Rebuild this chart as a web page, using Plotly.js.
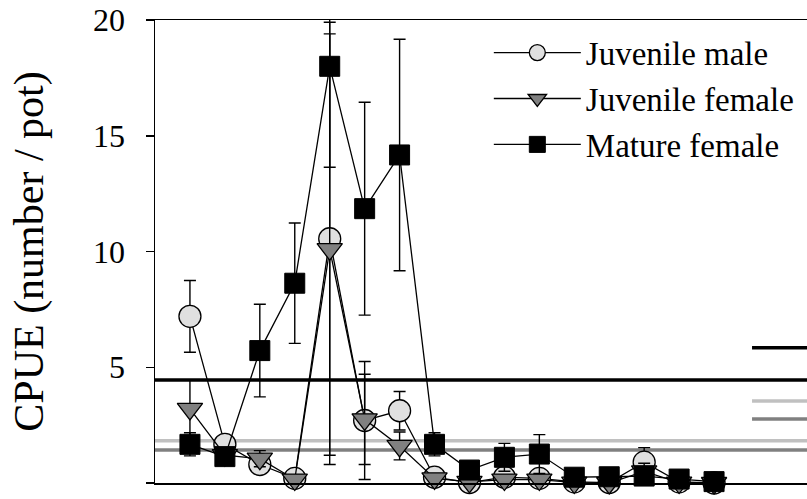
<!DOCTYPE html>
<html>
<head>
<meta charset="utf-8">
<script src="https://cdn.plot.ly/plotly-3.0.1.min.js"></script>
<style>
  html, body { margin: 0; padding: 0; background: #fff; overflow: hidden; }
  #chart { width: 807px; height: 499px; }
</style>
</head>
<body>
<div id="chart"></div>
<script>
// ---- data ----
const samples = [1, 2, 3, 4, 5, 6, 7, 8, 9, 10, 11, 12, 13, 14, 15, 16];

const juvMale    = [7.2, 1.67, 0.8, 0.2, 10.55, 2.7, 3.12, 0.25, 0.02, 0.25, 0.2, 0.05, 0.02, 0.9, 0.05, 0.0];
const juvMaleErr = [1.55, 0.15, 0.2, 0.1, 9.35, 2.55, 0.83, 0.15, 0.05, 0.3, 0.3, 0.1, 0.05, 0.63, 0.1, 0.02];

const juvFemale    = [3.2, 1.2, 1.05, 0.15, 10.1, 2.75, 1.6, 0.2, 0.05, 0.15, 0.15, 0.02, 0.0, 0.5, 0.02, 0.0];
const juvFemaleErr = [1.25, 0.2, 0.35, 0.1, 9.3, 1.95, 0.6, 0.1, 0.05, 0.2, 0.2, 0.05, 0.02, 0.35, 0.05, 0.0];

const matFemale    = [1.67, 1.14, 5.72, 8.63, 18.0, 11.85, 14.17, 1.67, 0.56, 1.11, 1.25, 0.25, 0.27, 0.3, 0.17, 0.06];
const matFemaleErr = [0.5, 0.25, 2.0, 2.6, 4.36, 4.6, 5.0, 0.5, 0.15, 0.6, 0.84, 0.1, 0.1, 0.15, 0.1, 0.05];

// horizontal reference levels (mature female, juvenile male, juvenile female)
const refLevels = [4.45, 1.83, 1.43];
const refColors = ['#000000', '#c0c0c0', '#808080'];

const yTicks = [0, 5, 10, 15, 20];
const seriesNames = ['Juvenile male', 'Juvenile female', 'Mature female'];

// ---- drawing ----
const FONT = 'serif';

function errSpec(arr) {
  return { type: 'data', array: arr, visible: true, color: '#000', thickness: 1.4, width: 6 };
}

const traces = [
  {
    x: samples, y: juvMale, name: seriesNames[0], type: 'scatter', mode: 'lines+markers',
    line: { color: '#000', width: 1.3 },
    marker: { symbol: 'circle', size: 22, color: '#e0e0e0', line: { color: '#000', width: 1.3 } },
    error_y: errSpec(juvMaleErr), cliponaxis: false
  },
  {
    x: samples, y: juvFemale, name: seriesNames[1], type: 'scatter', mode: 'lines+markers',
    line: { color: '#000', width: 1.3 },
    marker: { symbol: 'triangle-down', size: 22, color: '#808080', line: { color: '#000', width: 1.3 } },
    error_y: errSpec(juvFemaleErr), cliponaxis: false
  },
  {
    x: samples, y: matFemale, name: seriesNames[2], type: 'scatter', mode: 'lines+markers',
    line: { color: '#000', width: 1.3 },
    marker: { symbol: 'square', size: 20, color: '#000', line: { color: '#000', width: 1 } },
    error_y: errSpec(matFemaleErr), cliponaxis: false
  }
];

const shapes = refLevels.map((v, i) => ({
  type: 'line', xref: 'paper', yref: 'y', x0: 0, x1: 1, y0: v, y1: v,
  line: { color: refColors[i], width: 3.5 }, layer: 'below'
}));

// legend keys of the (cropped) reference-line legend at the right edge
const keyY = [0.2922, 0.1771, 0.1382];
keyY.forEach((py, i) => {
  shapes.push({
    type: 'line', xref: 'paper', yref: 'paper', x0: 0.9157, x1: 1.0, y0: py, y1: py,
    line: { color: refColors[i], width: 3.5 }, layer: 'above'
  });
});

const layout = {
  width: 807, height: 499,
  margin: { l: 155, r: 0, t: 20, b: 16, autoexpand: false },
  paper_bgcolor: '#fff', plot_bgcolor: '#fff',
  font: { family: FONT, color: '#000' },
  showlegend: true,
  legend: {
    x: 0.512, y: 0.99, xanchor: 'left', yanchor: 'top',
    font: { family: FONT, size: 33, color: '#000' },
    bgcolor: 'rgba(0,0,0,0)', borderwidth: 0,
    itemwidth: 87, tracegroupgap: 0
  },
  xaxis: {
    range: [0, 18.66], showgrid: false, zeroline: false,
    showline: true, linecolor: '#000', linewidth: 1.5, mirror: true,
    ticks: '', showticklabels: false, fixedrange: true
  },
  yaxis: {
    range: [0, 20], tickvals: yTicks, ticktext: yTicks.map(String),
    showgrid: false, zeroline: false,
    showline: true, linecolor: '#000', linewidth: 1.5,
    ticks: 'outside', ticklen: 8, tickwidth: 1.5, tickcolor: '#000',
    ticklabelstandoff: 14,
    tickfont: { family: FONT, size: 32, color: '#000' },
    title: { text: 'CPUE (number / pot)', font: { family: FONT, size: 42, color: '#000' }, standoff: 36 },
    automargin: false, fixedrange: true
  },
  shapes: shapes
};

Plotly.newPlot('chart', traces, layout, { displayModeBar: false, staticPlot: true });
</script>
</body>
</html>
